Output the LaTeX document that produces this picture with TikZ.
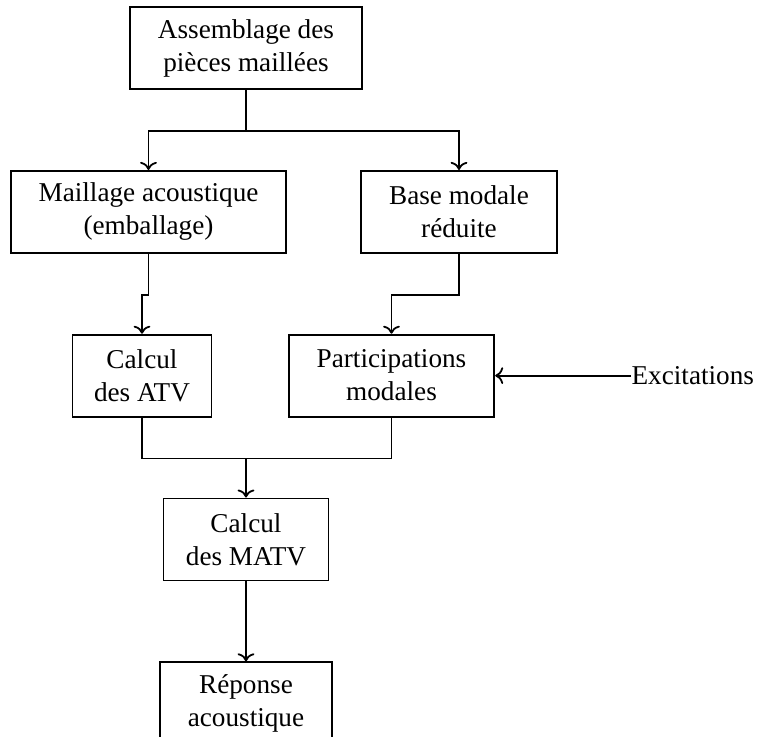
\documentclass[tikz,border=0pt]{standalone}
\usepackage{fontspec}
\setmainfont{Liberation Serif}
\usetikzlibrary{arrows.meta, positioning, calc}

\begin{document}
\begin{tikzpicture}[
  node distance=40pt,
  etape/.style={rectangle, draw, line width=0.9pt, align=center,
                minimum height=41pt, inner xsep=14pt,
                font=\fontsize{13.6pt}{16.5pt}\selectfont},
  arr/.style={-{To[length=4pt]}, line width=0.9pt},
  lien/.style={line width=0.9pt}
]
  % cadre de l'image
  \useasboundingbox (-123pt,24pt) rectangle ++(383.5pt,-368pt);
  \node[etape] (assemb) at (0,0) {Assemblage des\\pièces maillées};
  \node[etape, below=of assemb, xshift=-48.75pt] (maillage) {Maillage acoustique\\(emballage)};
  \node[etape, below=of assemb, xshift=106.5pt] (base) {Base modale\\réduite};
  \node[etape, below=of maillage, xshift=-3.25pt, inner xsep=10.75pt] (atv) {Calcul\\des ATV};
  \node[etape, below=of base, xshift=-33.75pt] (partic) {Participations\\modales};
  \node[etape, anchor=north, inner xsep=11.25pt] (matv) at ($(atv.south -| assemb)+(0,-40pt)$) {Calcul\\des MATV};
  \node[etape, below=of matv] (reponse) {Réponse\\acoustique};
  \node[right=68pt of partic, inner sep=0pt, font=\fontsize{13.6pt}{16.5pt}\selectfont] (excit) {Excitations};
  % liaisons
  \coordinate (sep) at ($(assemb.south)+(0,-20.5pt)$);
  \draw[lien] (assemb.south) -- (sep);
  \draw[arr] (sep) -| (maillage);
  \draw[arr] (sep) -| (base);
  \draw[arr] (maillage.south) -- ++(0,-20.5pt) -| (atv);
  \draw[arr] (base.south) -- ++(0,-20.5pt) -| (partic);
  \coordinate (jonc) at ($(atv.south)+(0,-20.5pt)$);
  \draw[lien] (atv.south) -- (jonc) -| (partic.south);
  \draw[arr] (matv.north |- jonc) -- (matv);
  \draw[arr] (matv) -- (reponse);
  \draw[arr] (excit) -- (partic);
\end{tikzpicture}
\end{document}
